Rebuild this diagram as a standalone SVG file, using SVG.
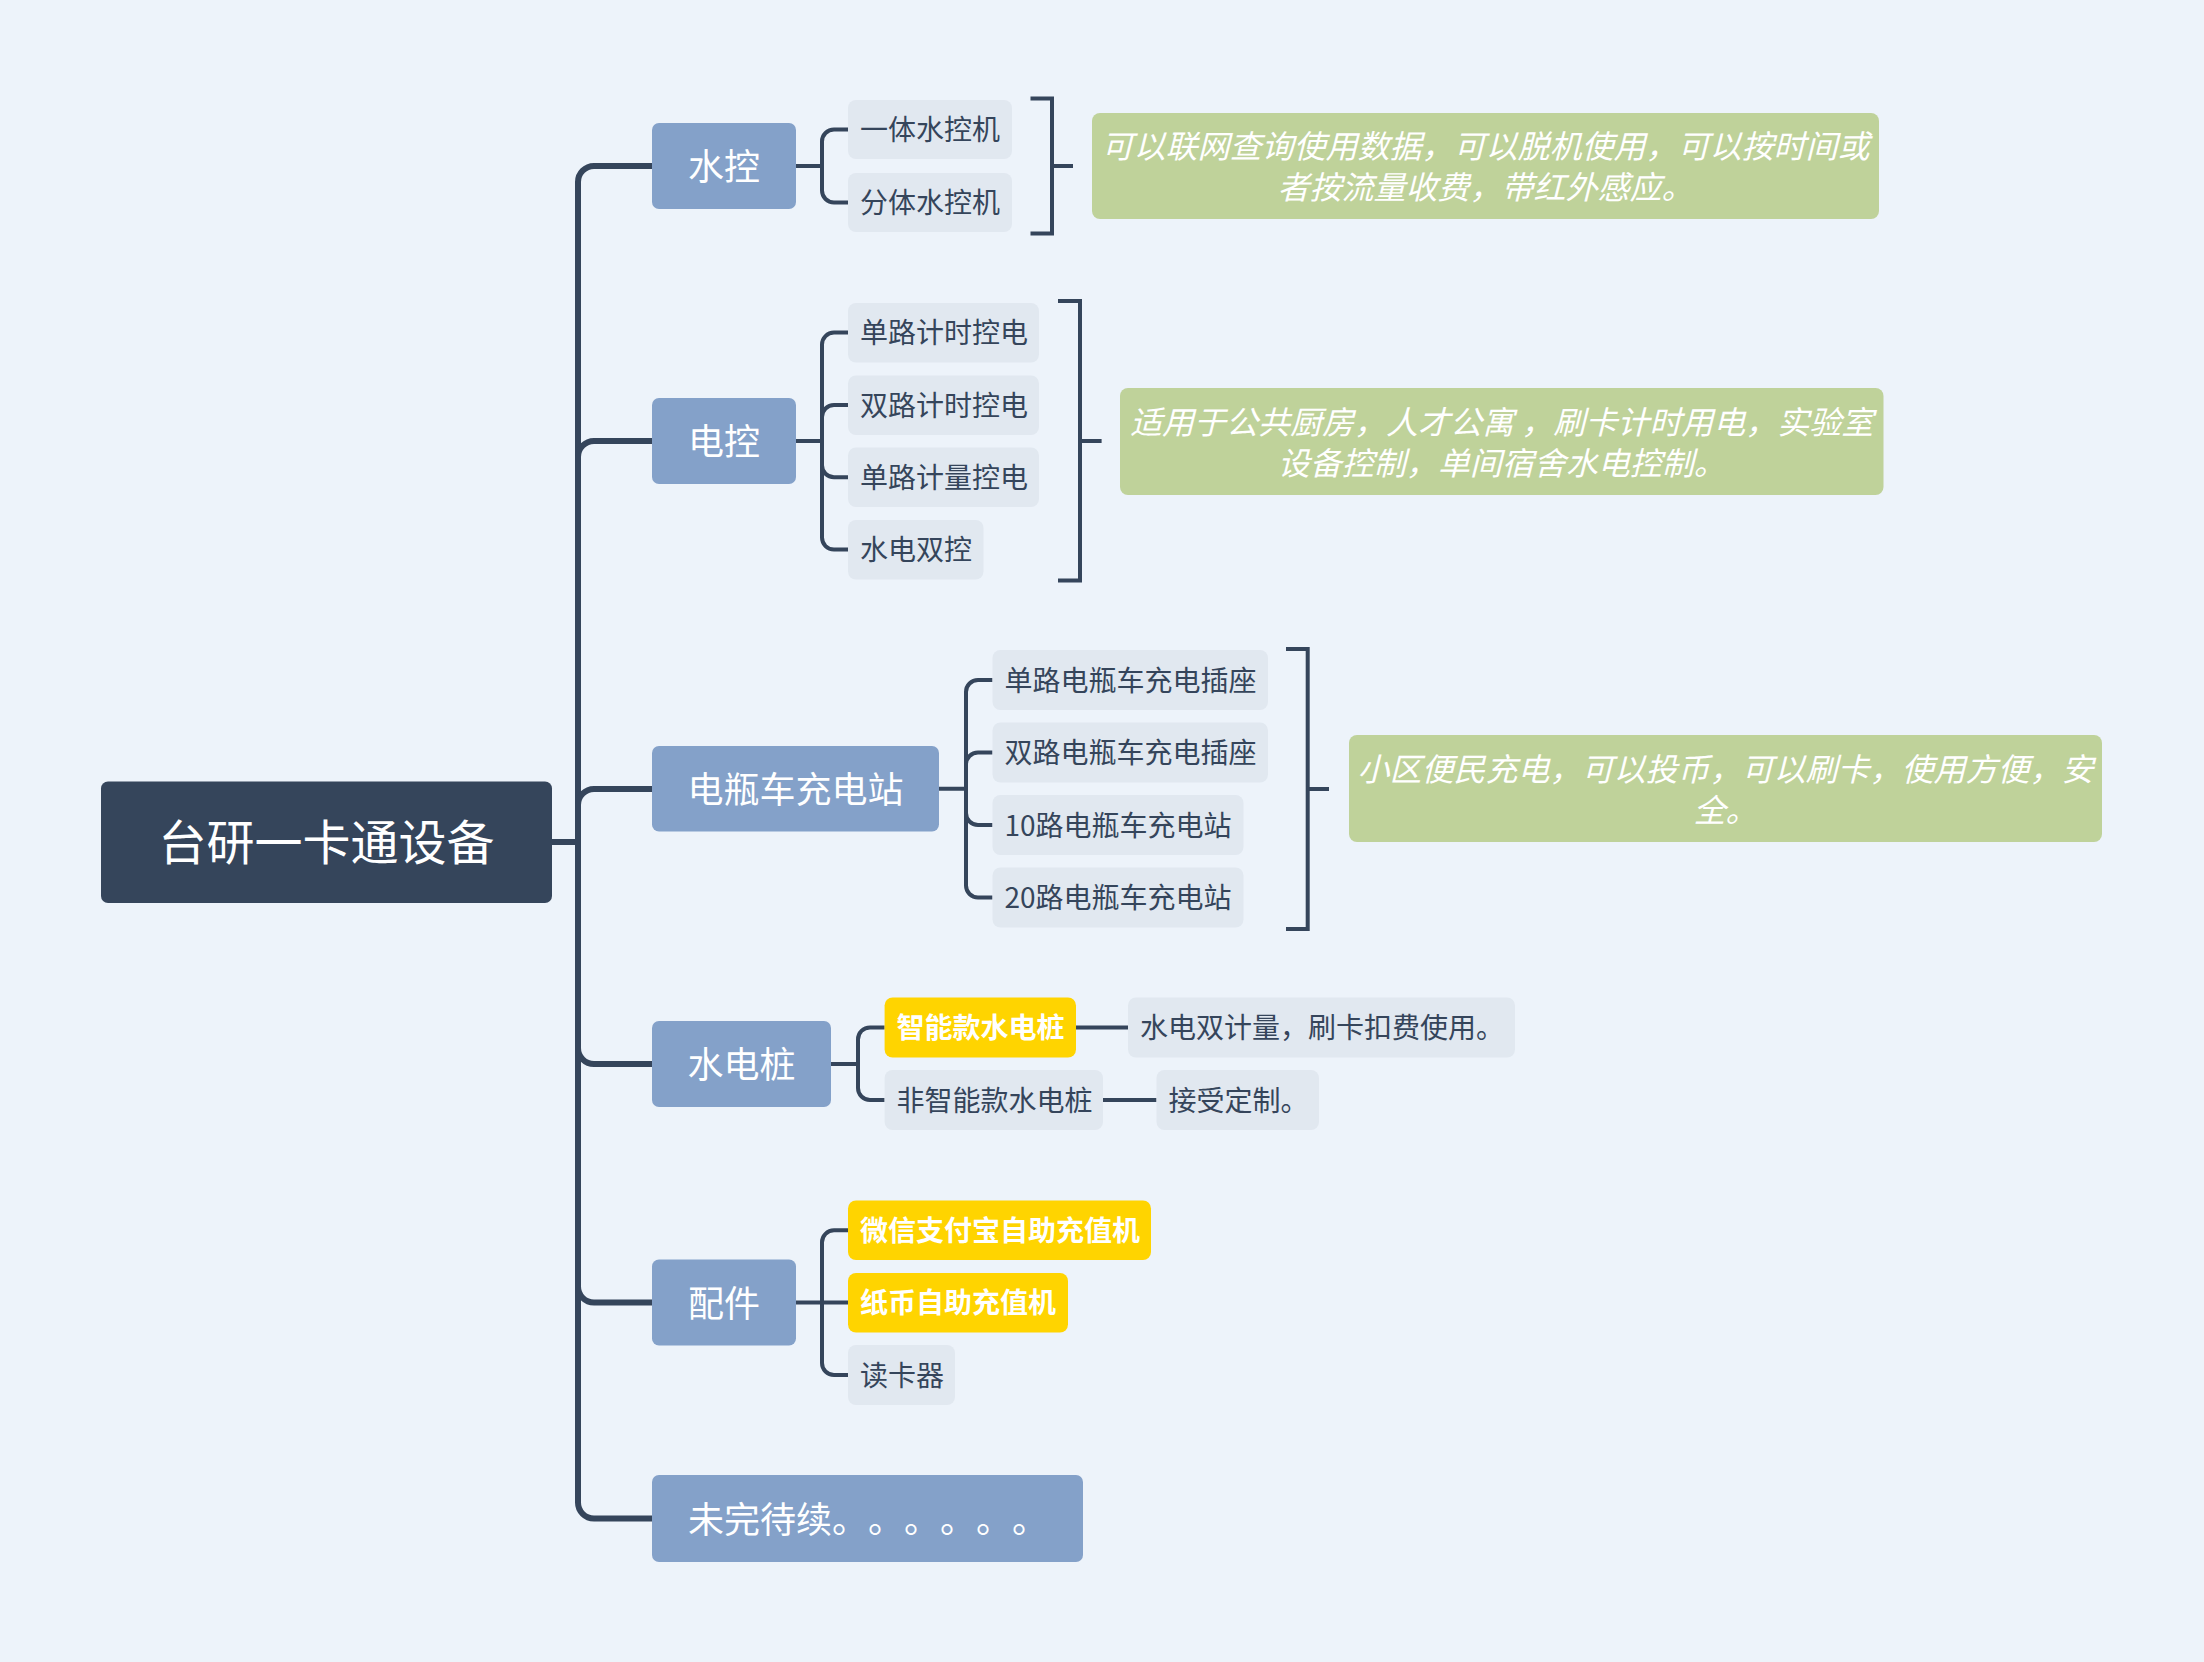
<svg xmlns="http://www.w3.org/2000/svg" width="2204" height="1662" viewBox="0 0 2204 1662">
<style>
text{font-family:"Noto Sans CJK SC","Noto Sans",sans-serif;dominant-baseline:central}
.root rect{fill:#35455b}
.root text{fill:#fff;font-size:48px;text-anchor:middle}
.l1 rect{fill:#84a1c9}
.l1 text{fill:#fff;font-size:36px;text-anchor:middle}
.l2 rect{fill:#e1e8f0}
.l2 text{fill:#35455b;font-size:28px}
.hl rect{fill:#ffd400}
.hl text{fill:#fff;font-size:28px;font-weight:bold}
.sum rect{fill:#bfd29a}
.sum text{fill:#fff;font-size:32px;font-style:italic;text-anchor:middle}
.trunk{fill:none;stroke:#35455b;stroke-width:6}
.conn{fill:none;stroke:#35455b;stroke-width:4}
</style>
<rect x="0" y="0" width="2204" height="1662" fill="#edf3fa"/>
<g id="connectors">
<path class="trunk" d="M551,842 H578"/>
<path class="trunk" d="M578,842 V182 A16,16 0 0 1 594,166 H652"/>
<path class="trunk" d="M578,842 V457 A16,16 0 0 1 594,441 H652"/>
<path class="trunk" d="M578,842 V805 A16,16 0 0 1 594,789 H652"/>
<path class="trunk" d="M578,842 V1048 A16,16 0 0 0 594,1064 H652"/>
<path class="trunk" d="M578,842 V1286.5 A16,16 0 0 0 594,1302.5 H652"/>
<path class="trunk" d="M578,842 V1502.5 A16,16 0 0 0 594,1518.5 H652"/>
<path class="conn" d="M796,166 H822 M822,166 V141.5 A12,12 0 0 1 834,129.5 H848 M822,166 V190.5 A12,12 0 0 0 834,202.5 H848"/>
<path class="conn" d="M796,441 H822 M822,441 V344.6 A12,12 0 0 1 834,332.6 H848 M822,441 V417 A12,12 0 0 1 834,405 H848 M822,441 V465.3 A12,12 0 0 0 834,477.3 H848 M822,441 V537.6 A12,12 0 0 0 834,549.6 H848"/>
<path class="conn" d="M939,788.8 H966 M966,788.8 V692 A12,12 0 0 1 978,680 H992.5 M966,788.8 V764.5 A12,12 0 0 1 978,752.5 H992.5 M966,788.8 V813 A12,12 0 0 0 978,825 H992.5 M966,788.8 V885.5 A12,12 0 0 0 978,897.5 H992.5"/>
<path class="conn" d="M831,1064 H858 M858,1064 V1039.4 A12,12 0 0 1 870,1027.4 H884.6 M858,1064 V1088 A12,12 0 0 0 870,1100 H884.6"/>
<path class="conn" d="M1076,1027.4 H1128 M1103,1100 H1156.5"/>
<path class="conn" d="M796,1302.5 H848 M822,1302.5 V1242.3 A12,12 0 0 1 834,1230.3 H848 M822,1302.5 V1363 A12,12 0 0 0 834,1375 H848"/>
<path class="conn" d="M1030.5,98.6 H1052 V233.5 H1030.5 M1052,166 H1073"/>
<path class="conn" d="M1058,301 H1080 V580.5 H1058 M1080,441 H1101.6"/>
<path class="conn" d="M1286,649 H1307.7 V929 H1286 M1307.7,789 H1329"/>
</g>
<g id="root" class="root"><rect x="101" y="781.5" width="451" height="121.5" rx="7"/><text x="326.5" y="839">台研一卡通设备</text></g>
<g id="n-shuikong" class="l1"><rect x="652" y="123" width="144" height="86" rx="7"/><text x="724" y="164">水控</text></g>
<g id="n-diankong" class="l1"><rect x="652" y="398" width="144" height="86" rx="7"/><text x="724" y="439">电控</text></g>
<g id="n-dianping" class="l1"><rect x="652" y="746" width="287" height="85.5" rx="7"/><text x="795.5" y="786.8">电瓶车充电站</text></g>
<g id="n-shuidianzhuang" class="l1"><rect x="652" y="1021" width="179" height="86" rx="7"/><text x="741.5" y="1062">水电桩</text></g>
<g id="n-peijian" class="l1"><rect x="652" y="1259.5" width="144" height="86" rx="7"/><text x="724" y="1300.5">配件</text></g>
<g id="n-weiwan" class="l1"><rect x="652" y="1475" width="431" height="87" rx="7"/><text x="688" y="1516.5" style="text-anchor:start">未完待续<tspan x="832">。</tspan><tspan x="868">。</tspan><tspan x="904">。</tspan><tspan x="940">。</tspan><tspan x="976">。</tspan><tspan x="1012">。</tspan></text></g>
<g id="n-yiti" class="l2"><rect x="848" y="100" width="164" height="59" rx="8"/><text x="860" y="128">一体水控机</text></g>
<g id="n-fenti" class="l2"><rect x="848" y="173" width="164" height="59" rx="8"/><text x="860" y="201">分体水控机</text></g>
<g id="n-dljs" class="l2"><rect x="848" y="303" width="191" height="59.5" rx="8"/><text x="860" y="331">单路计时控电</text></g>
<g id="n-sljs" class="l2"><rect x="848" y="375.5" width="191" height="59.5" rx="8"/><text x="860" y="403.5">双路计时控电</text></g>
<g id="n-dljl" class="l2"><rect x="848" y="447.5" width="191" height="59.5" rx="8"/><text x="860" y="475.8">单路计量控电</text></g>
<g id="n-sdsk" class="l2"><rect x="848" y="520" width="135.5" height="59.5" rx="8"/><text x="860" y="548">水电双控</text></g>
<g id="n-dlcz" class="l2"><rect x="992.5" y="650" width="275.5" height="60" rx="8"/><text x="1004.5" y="678.5">单路电瓶车充电插座</text></g>
<g id="n-slcz" class="l2"><rect x="992.5" y="722.5" width="275.5" height="60" rx="8"/><text x="1004.5" y="751">双路电瓶车充电插座</text></g>
<g id="n-10l" class="l2"><rect x="992.5" y="795" width="251" height="60" rx="8"/><text x="1004.5" y="823.5">10路电瓶车充电站</text></g>
<g id="n-20l" class="l2"><rect x="992.5" y="867.5" width="251" height="60" rx="8"/><text x="1004.5" y="896">20路电瓶车充电站</text></g>
<g id="n-zhineng" class="hl"><rect x="884.6" y="997.5" width="191.4" height="60" rx="8"/><text x="896.6" y="1026">智能款水电桩</text></g>
<g id="n-feizhineng" class="l2"><rect x="884.6" y="1070" width="218.4" height="60" rx="8"/><text x="896.6" y="1098.5">非智能款水电桩</text></g>
<g id="n-shuangjiliang" class="l2"><rect x="1128" y="997.5" width="387" height="60" rx="8"/><text x="1140" y="1026">水电双计量，刷卡扣费使用。</text></g>
<g id="n-dingzhi" class="l2"><rect x="1156.5" y="1070" width="162.5" height="60" rx="8"/><text x="1168.5" y="1098.5">接受定制。</text></g>
<g id="n-weixin" class="hl"><rect x="848" y="1200.5" width="303" height="59.5" rx="8"/><text x="860" y="1228.8">微信支付宝自助充值机</text></g>
<g id="n-zhibi" class="hl"><rect x="848" y="1273" width="220" height="59.5" rx="8"/><text x="860" y="1301.3">纸币自助充值机</text></g>
<g id="n-duka" class="l2"><rect x="848" y="1345" width="107" height="60" rx="8"/><text x="860" y="1373.5">读卡器</text></g>
<g id="s-shuikong" class="sum"><rect x="1092" y="113" width="787" height="106" rx="8"/><text x="1485.5" y="144"><tspan x="1485.5" y="144">可以联网查询使用数据，可以脱机使用，可以按时间或</tspan><tspan x="1485.5" y="185">者按流量收费，带红外感应。</tspan></text></g>
<g id="s-diankong" class="sum"><rect x="1120" y="388" width="763.5" height="107" rx="8"/><text x="1501.7" y="419.5"><tspan x="1501.7" y="419.5">适用于公共厨房，人才公寓 ，刷卡计时用电，实验室</tspan><tspan x="1501.7" y="460.5">设备控制，单间宿舍水电控制。</tspan></text></g>
<g id="s-dianping" class="sum"><rect x="1349" y="735" width="753" height="107" rx="8"/><text x="1725.5" y="766.5"><tspan x="1725.5" y="766.5">小区便民充电，可以投币，可以刷卡，使用方便，安</tspan><tspan x="1725.5" y="807.5">全。</tspan></text></g>
</svg>
